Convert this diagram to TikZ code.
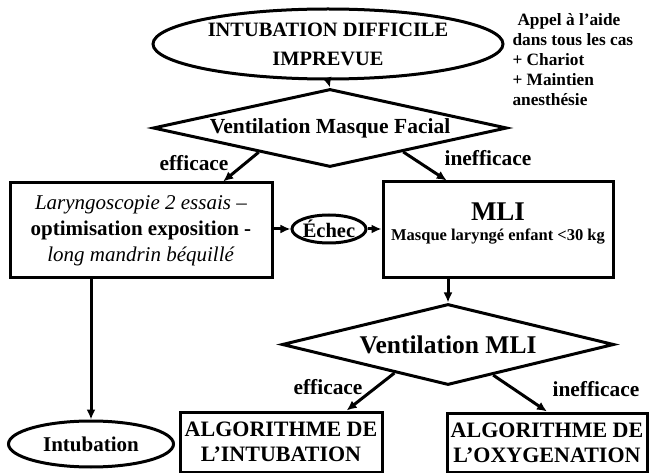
\documentclass[tikz,border=0pt]{standalone}
\usepackage{fontspec}
\setmainfont{Liberation Serif}
\usetikzlibrary{shapes.geometric, arrows.meta, calc}

\begin{document}
\begin{tikzpicture}[x=1pt, y=-1pt, line width=3pt, >={Latex[length=10pt,width=9pt]},
	oval/.style={draw, ellipse, inner sep=0pt, align=center, font=\bfseries\fontsize{21}{28}\selectfont},
	choice/.style={draw, diamond, aspect=4.5, inner sep=0pt, font=\bfseries\fontsize{21.5}{26}\selectfont},
	box/.style={draw, rectangle, inner sep=0pt, align=center},
	lbl/.style={inner sep=0pt, font=\bfseries\fontsize{21.4}{24}\selectfont}]
	\useasboundingbox (0,0) rectangle (651,473);
	
	\node[oval, minimum width=350, minimum height=70, font=\bfseries\fontsize{20.4}{29}\selectfont] (idi) at (328,44) {INTUBATION DIFFICILE\\IMPREVUE};
	\node[anchor=north west, align=left, inner sep=0pt, font=\bfseries\fontsize{17.3}{20}\selectfont] (aide) at (511,12) {\hspace{5pt}Appel à l’aide\\dans tous les cas\\+ Chariot\\+ Maintien\\anesthésie};
	
	\node[choice, minimum width=354, minimum height=78] (vmf) at (330,128) {Ventilation Masque Facial};
	\node[lbl] (eff1) at (194,163) {efficace};
	\node[lbl] (ineff1) at (488,158) {inefficace};
	
	\node[box, minimum width=262, minimum height=95, font=\fontsize{21}{26}\selectfont] (lary) at (141,230.5) {\textit{Laryngoscopie 2 essais –}\\\textbf{optimisation exposition -}\\\textit{long mandrin béquillé}};
	\node[oval, minimum width=66, minimum height=28, font=\bfseries\fontsize{20.5}{24}\selectfont] (echec) at (329,229) {Échec};
	\node[box, minimum width=230, minimum height=96] (mli) at (498,230) {};
	\node[align=center, inner sep=0pt, font=\bfseries\fontsize{16.5}{20}\selectfont] (mlitxt) at (498,223) {{\fontsize{27}{27}\selectfont MLI}\\Masque laryngé enfant <30 kg};
	
	\node[choice, minimum width=332, minimum height=81, font=\bfseries\fontsize{25.5}{28}\selectfont] (vmli) at (448,344.5) {Ventilation MLI};
	\node[lbl] (eff2) at (328,387) {efficace};
	\node[lbl] (ineff2) at (596,389) {inefficace};
	
	\node[oval, minimum width=165, minimum height=46] (intub) at (91,444) {Intubation};
	\node[box, minimum width=202, minimum height=60, font=\bfseries\fontsize{22}{25}\selectfont] (algi) at (281,442) {ALGORITHME DE\\L’INTUBATION};
	\node[box, minimum width=200, minimum height=59, font=\bfseries\fontsize{22}{25}\selectfont] (algo) at (547,442.5) {ALGORITHME DE\\L’OXYGENATION};
	
	\draw[->] (idi.south) -- (vmf.north);
	\draw[->] ($(vmf.south)!0.4!(vmf.west)$) -- ($(lary.north west)!0.81!(lary.north east)$);
	\draw[->] ($(vmf.south)!0.41!(vmf.east)$) -- ($(mli.north west)!0.28!(mli.north east)$);
	\draw[->] (lary.east |- echec.west) -- (echec.west);
	\draw[->] (echec.east) -- (echec.east -| mli.west);
	\draw[->] (mli.south -| vmli.north) -- (vmli.north);
	\draw[->] (lary.south -| intub.north) -- (intub.north);
	\draw[->] ($(vmli.south)!0.32!(vmli.west)$) -- ($(algi.north west)!0.82!(algi.north east)$);
	\draw[->] ($(vmli.south)!0.27!(vmli.east)$) -- (algo.north);
\end{tikzpicture}
\end{document}
